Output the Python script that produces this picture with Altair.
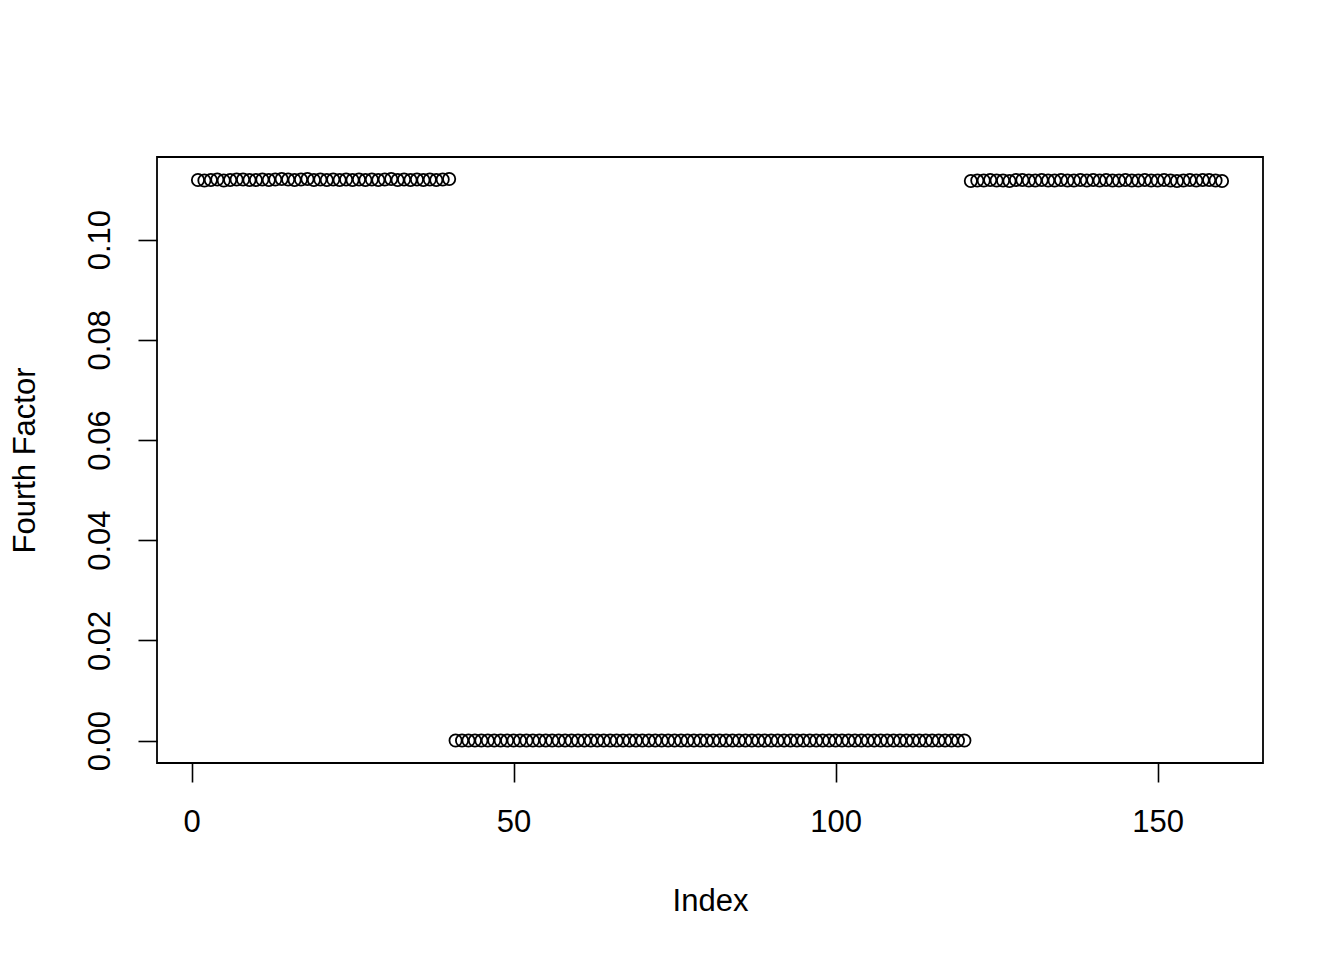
import altair as alt
import pandas as pd

# Values (index 1..160)
group1 = [0.1119, 0.1118, 0.1119, 0.1120, 0.1118, 0.1119, 0.1120, 0.1120, 0.1119, 0.1119,
          0.1120, 0.1119, 0.1120, 0.1121, 0.1120, 0.1119, 0.1120, 0.1121, 0.1119, 0.1120,
          0.1119, 0.1120, 0.1119, 0.1120, 0.1119, 0.1120, 0.1119, 0.1120, 0.1119, 0.1120,
          0.1121, 0.1119, 0.1120, 0.1119, 0.1120, 0.1119, 0.1120, 0.1119, 0.1120, 0.1121]
group2 = [0.0] * 80
group3 = [0.1117, 0.1118, 0.1118, 0.1119, 0.1118, 0.1118, 0.1117, 0.1119, 0.1119, 0.1118,
          0.1118, 0.1119, 0.1118, 0.1118, 0.1119, 0.1118, 0.1118, 0.1119, 0.1118, 0.1119,
          0.1118, 0.1119, 0.1118, 0.1118, 0.1119, 0.1118, 0.1118, 0.1119, 0.1118, 0.1118,
          0.1119, 0.1118, 0.1117, 0.1118, 0.1119, 0.1118, 0.1119, 0.1119, 0.1118, 0.1117]
values = group1 + group2 + group3
index = list(range(1, len(values) + 1))

x_ticks = [0, 50, 100, 150]
y_ticks = [0.0, 0.02, 0.04, 0.06, 0.08, 0.10]

df = pd.DataFrame({"Index": index, "Fourth Factor": values})

FONT = "Liberation Sans"

chart = alt.Chart(df).mark_point(
    shape="circle", filled=False, color="black", strokeWidth=1.8, size=150, opacity=1
).encode(
    x=alt.X("Index:Q",
            scale=alt.Scale(domain=[-5.36, 166.36], nice=False, zero=False),
            axis=alt.Axis(values=x_ticks, title="Index", grid=False, domain=False,
                          tickColor="black", tickWidth=1.6, tickSize=19,
                          labelColor="black", labelFontSize=31, labelFont=FONT,
                          labelPadding=25, labelFlush=False,
                          titleFont=FONT, titleFontSize=31, titleFontWeight="normal",
                          titleColor="black", titlePadding=49)),
    y=alt.Y("Fourth Factor:Q",
            scale=alt.Scale(domain=[-0.00448, 0.11648], nice=False, zero=False),
            axis=alt.Axis(values=y_ticks, format=".2f", title="Fourth Factor", grid=False,
                          domain=False, tickColor="black", tickWidth=1.6, tickSize=19,
                          labelColor="black", labelFontSize=31, labelFont=FONT,
                          labelAngle=270, labelAlign="center", labelBaseline="bottom",
                          labelPadding=22, labelFlush=False,
                          titleFont=FONT, titleFontSize=31, titleFontWeight="normal",
                          titleColor="black", titlePadding=43)),
).properties(
    width=1106, height=606,
    autosize=alt.AutoSizeParams(type="none"),
    padding={"left": 149, "top": 149, "right": 73, "bottom": 180},
).configure(
    background="white",
    view=alt.ViewConfig(stroke="black", strokeWidth=1.8),
)

chart.save("out.html", embed_options={"renderer": "svg", "actions": False})
